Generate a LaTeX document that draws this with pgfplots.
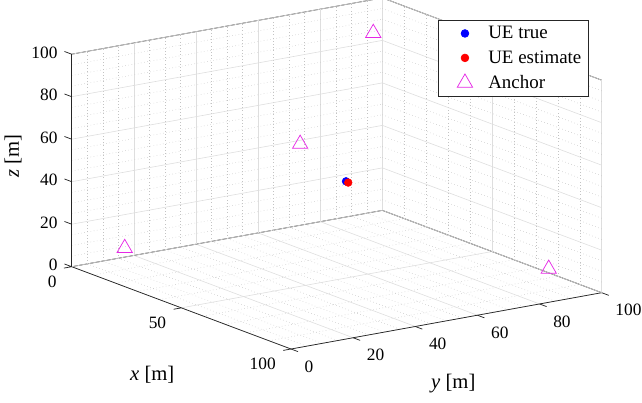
\documentclass[border=0pt]{standalone}
\usepackage{fontspec}
\setmainfont{Liberation Serif}
\usepackage{pgfplots}
\pgfplotsset{compat=1.18}
\usetikzlibrary{calc}
\definecolor{axgray}{RGB}{38,38,38}
\definecolor{gridmaj}{RGB}{222,222,222}
\definecolor{gridmin}{RGB}{195,195,195}
\definecolor{anc}{RGB}{230,40,230}
\begin{document}
\begin{tikzpicture}
\begin{axis}[
  x={(1.6448pt,-0.6173pt)},
  y={(2.3303pt,0.4223pt)},
  z={(0pt,1.5938pt)},
  xmin=0,xmax=100,ymin=0,ymax=100,zmin=0,zmax=100,
  clip=false, unbounded coords=jump,
  xtick={0,50,100}, ytick={0,20,...,100}, ztick={0,20,...,100},
  minor x tick num=4, minor y tick num=3, minor z tick num=3,
  grid=both,
  major grid style={gridmaj, line width=0.45pt},
  minor grid style={gridmin, dotted, line width=0.4pt},
  axis line style={axgray, line width=0.55pt},
  major tick length=0pt, minor tick length=0pt,
  tick style={draw=none},
  tick align=outside,
  ticklabel style={font=\rmfamily\fontsize{13}{15}\selectfont, text=black, inner sep=0pt},
  xticklabel style={anchor=east, xshift=-11.25pt, yshift=-11.25pt},
  yticklabel style={anchor=west, xshift=10.1pt, yshift=-13.1pt},
  zticklabel style={anchor=east, xshift=-10.5pt, yshift=1.1pt},
  /pgf/number format/assume math mode=true,
  xlabel={\textit{x} [m]},
  ylabel={\textit{y} [m]},
  zlabel={\textit{z} [m]},
  label style={font=\rmfamily\fontsize{15.5}{18}\selectfont},
  xlabel style={at={(axis cs:100.7,-45.15,0)}, anchor=center},
  ylabel style={at={(axis cs:152.2,15.39,0)}, anchor=center},
  zlabel style={at={(axis cs:-26.77,0,41.8)}, anchor=center, rotate=0},
  legend style={at={(axis cs:100,95.7,129.5)}, anchor=north east,
    draw=axgray, line width=0.5pt, fill=white,
    font=\rmfamily\fontsize{14.2}{17}\selectfont,
    inner xsep=3pt, inner ysep=2.5pt, row sep=3.5pt,
    cells={anchor=west}},
  legend image code/.code={\path[draw=none,fill=none] (-17.25pt,0pt) -- (15.5pt,0pt); \draw[#1] plot coordinates {(0pt,0pt)};},
]
% tick marks (outward, as in the reference)
\addplot3[axgray, line width=0.55pt, forget plot, mark=none] coordinates {
(0,0,0) (0,-2.5,0) (nan,nan,nan)
(50,0,0) (50,-2.5,0) (nan,nan,nan)
(100,0,0) (100,-2.5,0) (nan,nan,nan)
(100,0,0) (103.2,0,0) (nan,nan,nan)
(100,20,0) (103.2,20,0) (nan,nan,nan)
(100,40,0) (103.2,40,0) (nan,nan,nan)
(100,60,0) (103.2,60,0) (nan,nan,nan)
(100,80,0) (103.2,80,0) (nan,nan,nan)
(100,100,0) (103.2,100,0) (nan,nan,nan)
(0,0,0) (-3.3,0,0) (nan,nan,nan)
(0,0,20) (-3.3,0,20) (nan,nan,nan)
(0,0,40) (-3.3,0,40) (nan,nan,nan)
(0,0,60) (-3.3,0,60) (nan,nan,nan)
(0,0,80) (-3.3,0,80) (nan,nan,nan)
(0,0,100) (-3.3,0,100)
};
\addplot3[only marks, mark=*, mark size=2.9pt, blue] coordinates {(50,53,45.5)};
\addlegendentry{UE true}
\addplot3[only marks, mark=*, mark size=2.9pt, red] coordinates {(51,53,45.3)};
\addlegendentry{UE estimate}
\addplot3[only marks, mark=triangle, mark size=6.6pt, anc, line width=0.55pt] coordinates {
(10,10,10) (90,90,10) (10,90,90) (90,10,90)};
\addlegendentry{Anchor}
\coordinate (O) at (axis cs:0,0,0);
\end{axis}
\pgfresetboundingbox
\path ($(O)+(-53.775pt,200.025pt)$) rectangle ++(481.5pt,-302.25pt);
\end{tikzpicture}
\end{document}
